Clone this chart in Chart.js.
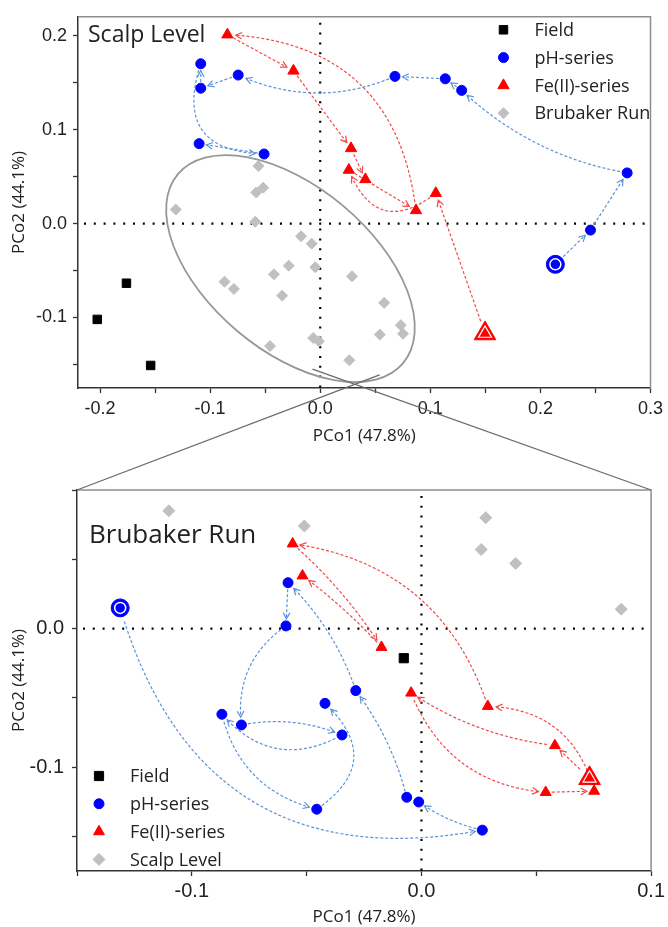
<!DOCTYPE html>
<html>
<head>
<meta charset="utf-8">
<script src="https://cdn.jsdelivr.net/npm/chart.js@4.4.1/dist/chart.umd.min.js"></script>
<style>
  html, body { margin: 0; padding: 0; background: #fff; }
  #wrap { position: relative; width: 668px; height: 927px; }
  canvas { position: absolute; left: 0; }
  #top { top: 0; }
  #bottom { top: 450px; }
  #links { top: 0; pointer-events: none; }
</style>
</head>
<body>
<div id="wrap">
  <canvas id="top" width="668" height="450"></canvas>
  <canvas id="bottom" width="668" height="477"></canvas>
  <canvas id="links" width="668" height="927"></canvas>
</div>
<script>
// [PCo1, PCo2] per sample; pH and Fe(II) runs are listed in order, first one is the start
const scalpField = [[-0.176, -0.0635], [-0.2025, -0.102], [-0.154, -0.151]];
const scalpPH = [
  [0.2136, -0.0434], [0.2455, -0.007], [0.2788, 0.0539], [0.1285, 0.1417],
  [0.1136, 0.154], [0.0679, 0.1566], [-0.0745, 0.158], [-0.1085, 0.144],
  [-0.1085, 0.170], [-0.051, 0.074], [-0.110, 0.085]
];
const scalpFe = [
  [0.1497, -0.117], [0.105, 0.0323], [0.026, 0.057], [0.087, 0.014],
  [-0.0843, 0.201], [-0.0243, 0.1625], [0.028, 0.080], [0.041, 0.047]
];

const brubField = [[-0.0077, -0.0214]];
const brubPH = [
  [-0.1312, 0.0149], [0.0265, -0.1455], [-0.0012, -0.1252], [-0.0064, -0.1218],
  [-0.0286, -0.0448], [-0.0581, 0.0331], [-0.059, 0.0019], [-0.0784, -0.0696],
  [-0.0346, -0.0768], [-0.0869, -0.0619], [-0.0456, -0.1304], [-0.042, -0.054]
];
const brubFe = [
  [0.0732, -0.1081], [0.0581, -0.0844], [-0.0045, -0.0465], [0.0541, -0.1182],
  [0.0752, -0.1173], [0.0289, -0.0561], [-0.0561, 0.0612], [-0.0174, -0.0135],
  [-0.0518, 0.0381]
];

const seriesNames = ['Field', 'pH-series', 'Fe(II)-series'];
const xTitle = 'PCo1 (47.8%)';
const yTitle = 'PCo2 (44.1%)';

// drawing bits (curvature of each arrow, ellipse, zoom link ends)
const scalpPHBends = [0, 0, -0.15, 0, 0, -0.22, 0, 0, 0.67, 0];
const scalpFeBends = [0, -0.66, 0, 0.42, 0, 0, 0];
const brubPHBends = [0.45, -0.1, 0, 0.1, 0.12, 0, 0.3, -0.15, -0.4, 0.3, 0.62];
const brubFeBends = [0, -0.12, 0.31, 0, 0.37, 0.31, -0.07, 0.05];
const scalpEllipse = { x: -0.027, y: -0.048, rx: 147, ry: 82, angle: 40 };
const zoomLinkEnds = [[0.054, -0.161], [-0.007, -0.155]];

const BLUE = '#0000ff', RED = '#ff0000', GRAY = '#c0c0c0';
const BLUE_ARROW = '#5b93d8', RED_ARROW = '#ef4b4b';
const TEXT = '#222';
const SANS = '"Open Sans", "Noto Sans", sans-serif';
const NUM = '"Liberation Sans", Arial, sans-serif';

const toXY = pts => pts.map(([x, y]) => ({ x, y }));
const tenth = v => Math.abs(v * 10 - Math.round(v * 10)) < 1e-6;

function points(label, pts, style, color, radius, order, extra) {
  return Object.assign({
    label,
    data: toXY(pts),
    pointStyle: style,
    backgroundColor: color,
    borderColor: color,
    pointRadius: radius,
    pointHoverRadius: radius,
    pointBorderWidth: 1,
    order
  }, extra || {});
}

function quad(p0, c, p1, t) {
  const u = 1 - t;
  return {
    x: u * u * p0.x + 2 * u * t * c.x + t * t * p1.x,
    y: u * u * p0.y + 2 * u * t * c.y + t * t * p1.y
  };
}

function drawArrow(ctx, p0, p1, bend, gap0, gap1, color) {
  const dx = p1.x - p0.x, dy = p1.y - p0.y;
  if (Math.hypot(dx, dy) < gap0 + gap1 + 2) return;
  const c = { x: (p0.x + p1.x) / 2 - bend * dy, y: (p0.y + p1.y) / 2 + bend * dx };
  const n = 80;
  const pts = [];
  for (let i = 0; i <= n; i++) pts.push(quad(p0, c, p1, i / n));
  let i0 = 0, i1 = n;
  while (i0 < n && Math.hypot(pts[i0].x - p0.x, pts[i0].y - p0.y) < gap0) i0++;
  while (i1 > 0 && Math.hypot(pts[i1].x - p1.x, pts[i1].y - p1.y) < gap1) i1--;
  if (i1 - i0 < 2) return;

  ctx.strokeStyle = color;
  ctx.lineWidth = 1.2;
  ctx.setLineDash([3, 2]);
  ctx.beginPath();
  ctx.moveTo(pts[i0].x, pts[i0].y);
  for (let i = i0 + 1; i <= i1; i++) ctx.lineTo(pts[i].x, pts[i].y);
  ctx.stroke();

  const tip = pts[i1], back = pts[Math.max(i0, i1 - 3)];
  const ang = Math.atan2(tip.y - back.y, tip.x - back.x);
  ctx.setLineDash([]);
  ctx.beginPath();
  ctx.moveTo(tip.x - 7 * Math.cos(ang - 0.5), tip.y - 7 * Math.sin(ang - 0.5));
  ctx.lineTo(tip.x, tip.y);
  ctx.lineTo(tip.x - 7 * Math.cos(ang + 0.5), tip.y - 7 * Math.sin(ang + 0.5));
  ctx.stroke();
}

function marker(ctx, ds, x, y) {
  ctx.fillStyle = ds.backgroundColor;
  ctx.strokeStyle = ds.borderColor;
  ctx.lineWidth = 1;
  if (Chart.helpers && Chart.helpers.drawPoint) {
    Chart.helpers.drawPoint(ctx, { pointStyle: ds.pointStyle, radius: ds.pointRadius, rotation: 0, borderWidth: 1 }, x, y);
  }
}

const pcoaDecor = {
  id: 'pcoaDecor',
  beforeDatasetsDraw(chart, args, opts) {
    const { ctx, chartArea: a, scales: { x, y } } = chart;
    ctx.save();
    ctx.beginPath();
    ctx.rect(a.left, a.top, a.width, a.height);
    ctx.clip();

    // dotted zero lines
    const x0 = x.getPixelForValue(0), y0 = y.getPixelForValue(0);
    ctx.strokeStyle = '#000';
    ctx.lineWidth = 2.2;
    ctx.setLineDash([2, 7.8]);
    ctx.beginPath();
    ctx.moveTo(a.left + 6, y0); ctx.lineTo(a.right, y0);
    ctx.moveTo(x0, a.top + 6); ctx.lineTo(x0, a.bottom);
    ctx.stroke();
    ctx.setLineDash([]);

    if (opts.ellipse) {
      const e = opts.ellipse;
      ctx.strokeStyle = '#979797';
      ctx.lineWidth = 1.8;
      ctx.beginPath();
      ctx.ellipse(x.getPixelForValue(e.x), y.getPixelForValue(e.y), e.rx, e.ry, e.angle * Math.PI / 180, 0, Math.PI * 2);
      ctx.stroke();
    }

    for (const run of opts.runs) {
      const px = run.pts.map(([vx, vy]) => ({ x: x.getPixelForValue(vx), y: y.getPixelForValue(vy) }));
      for (let i = 0; i < px.length - 1; i++) {
        drawArrow(ctx, px[i], px[i + 1], run.bends[i] || 0, i === 0 ? run.startGap : 6, 7, run.color);
      }
    }
    ctx.restore();
  },
  afterDatasetsDraw(chart) {
    const { ctx, chartArea: a } = chart;
    ctx.save();
    ctx.strokeStyle = '#8e8e8e';
    ctx.lineWidth = 1.5;
    ctx.beginPath();
    ctx.moveTo(a.left, a.top);
    ctx.lineTo(a.right, a.top);
    ctx.lineTo(a.right, a.bottom);
    ctx.stroke();
    ctx.restore();
  },
  afterDraw(chart, args, opts) {
    const { ctx, chartArea: a } = chart;
    ctx.save();
    ctx.fillStyle = TEXT;
    ctx.font = opts.titleSize + 'px ' + SANS;
    ctx.textBaseline = 'alphabetic';
    ctx.fillText(opts.title, a.left + opts.titleDx, a.top + opts.titleDy);

    const lx = opts.legendAt === 'topright' ? a.right - 147 : a.left + 22;
    const ly = opts.legendAt === 'topright' ? a.top + 13 : a.bottom - 95;
    chart.data.datasets.slice(0, 4).forEach((ds, i) => {
      const yy = ly + i * 27.8;
      marker(ctx, ds, lx, yy);
      ctx.fillStyle = TEXT;
      ctx.font = '18px ' + SANS;
      ctx.textBaseline = 'middle';
      ctx.fillText(ds.label, lx + 31, yy + 1);
    });
    ctx.restore();
  }
};

function axes(o) {
  const tickFont = { family: NUM, size: o.tickSize };
  return {
    x: {
      type: 'linear',
      min: o.xMin, max: o.xMax,
      afterFit: s => { s.height = o.xHeight; },
      border: { color: '#333', width: 1.5 },
      grid: { drawOnChartArea: false, drawTicks: true, tickLength: 5, tickColor: '#333', tickWidth: 1.3 },
      ticks: {
        stepSize: 0.05, includeBounds: false, autoSkip: false, maxRotation: 0,
        padding: o.xPad, color: TEXT, font: tickFont,
        callback: v => (tenth(v) ? v.toFixed(1) : '')
      },
      title: { display: true, text: xTitle, color: TEXT, font: { family: SANS, size: 17 }, padding: { top: 0, bottom: o.titlePad } }
    },
    y: {
      type: 'linear',
      min: o.yMin, max: o.yMax,
      afterFit: s => { s.width = o.yWidth; },
      border: { color: '#333', width: 1.5 },
      grid: { drawOnChartArea: false, drawTicks: true, tickLength: 5, tickColor: '#333', tickWidth: 1.3 },
      ticks: {
        stepSize: 0.05, includeBounds: false, autoSkip: false,
        padding: o.yPad, color: TEXT, font: tickFont,
        callback: v => (tenth(v) && v < o.yLabelMax ? v.toFixed(1) : '')
      },
      title: { display: true, text: yTitle, color: TEXT, font: { family: SANS, size: 17 }, padding: { top: 9, bottom: 0 } }
    }
  };
}

Chart.defaults.font.family = SANS;

const topChart = new Chart(document.getElementById('top'), {
  type: 'scatter',
  data: {
    datasets: [
      points(seriesNames[0], scalpField, 'rect', '#000', 6, 5),
      points(seriesNames[1], scalpPH, 'circle', BLUE, 5, 5),
      points(seriesNames[2], scalpFe, 'triangle', RED, 6.5, 5),
      points('Brubaker Run', brubField.concat(brubPH, brubFe), 'rectRot', GRAY, 5.5, 9),
      points('start', [scalpPH[0]], 'circle', BLUE, 9, 2),
      points('start', [scalpPH[0]], 'circle', BLUE, 5.5, 1, { borderColor: '#fff', pointBorderWidth: 1.5 }),
      points('start', [scalpFe[0]], 'triangle', RED, 12.5, 2),
      points('start', [scalpFe[0]], 'triangle', RED, 7.5, 1, { borderColor: '#fff', pointBorderWidth: 1.2 })
    ]
  },
  options: {
    responsive: false,
    animation: false,
    devicePixelRatio: 1,
    layout: { padding: { top: 10, right: 17, left: 0, bottom: 0 } },
    scales: axes({ xMin: -0.22, xMax: 0.3, yMin: -0.175, yMax: 0.22, xHeight: 62, yWidth: 78,
                   tickSize: 18, xPad: 5, yPad: 6, titlePad: 4, yLabelMax: 0.25 }),
    plugins: {
      legend: { display: false },
      tooltip: { enabled: false },
      pcoaDecor: {
        title: 'Scalp Level', titleSize: 23, titleDx: 10, titleDy: 25,
        legendAt: 'topright',
        ellipse: scalpEllipse,
        runs: [
          { pts: scalpPH, bends: scalpPHBends, color: BLUE_ARROW, startGap: 11 },
          { pts: scalpFe, bends: scalpFeBends, color: RED_ARROW, startGap: 13 }
        ]
      }
    }
  },
  plugins: [pcoaDecor]
});

const bottomChart = new Chart(document.getElementById('bottom'), {
  type: 'scatter',
  data: {
    datasets: [
      points(seriesNames[0], brubField, 'rect', '#000', 6.5, 5),
      points(seriesNames[1], brubPH, 'circle', BLUE, 5, 5),
      points(seriesNames[2], brubFe, 'triangle', RED, 6.3, 5),
      points('Scalp Level', scalpField.concat(scalpPH, scalpFe), 'rectRot', GRAY, 6, 9),
      points('start', [brubPH[0]], 'circle', BLUE, 9, 2),
      points('start', [brubPH[0]], 'circle', BLUE, 5.5, 1, { borderColor: '#fff', pointBorderWidth: 1.5 }),
      points('start', [brubFe[0]], 'triangle', RED, 12.5, 2),
      points('start', [brubFe[0]], 'triangle', RED, 7.5, 1, { borderColor: '#fff', pointBorderWidth: 1.2 })
    ]
  },
  options: {
    responsive: false,
    animation: false,
    devicePixelRatio: 1,
    layout: { padding: { top: 40, right: 15, left: 0, bottom: 0 } },
    scales: axes({ xMin: -0.15, xMax: 0.1, yMin: -0.175, yMax: 0.1, xHeight: 56, yWidth: 77,
                   tickSize: 20, xPad: 3, yPad: 8, titlePad: 0, yLabelMax: 0.09 }),
    plugins: {
      legend: { display: false },
      tooltip: { enabled: false },
      pcoaDecor: {
        title: 'Brubaker Run', titleSize: 26, titleDx: 12, titleDy: 53,
        legendAt: 'bottomleft',
        runs: [
          { pts: brubPH, bends: brubPHBends, color: BLUE_ARROW, startGap: 11 },
          { pts: brubFe, bends: brubFeBends, color: RED_ARROW, startGap: 13 }
        ]
      }
    }
  },
  plugins: [pcoaDecor]
});

// lines tying the ellipse area of the top plot to the lower plot
const lk = document.getElementById('links').getContext('2d');
const tx = topChart.scales.x, ty = topChart.scales.y;
const ba = bottomChart.chartArea, off = 450;
lk.strokeStyle = '#6a6a6a';
lk.lineWidth = 1.3;
lk.beginPath();
lk.moveTo(ba.left, ba.top + off);
lk.lineTo(tx.getPixelForValue(zoomLinkEnds[0][0]), ty.getPixelForValue(zoomLinkEnds[0][1]));
lk.moveTo(ba.right, ba.top + off);
lk.lineTo(tx.getPixelForValue(zoomLinkEnds[1][0]), ty.getPixelForValue(zoomLinkEnds[1][1]));
lk.stroke();
</script>
</body>
</html>
